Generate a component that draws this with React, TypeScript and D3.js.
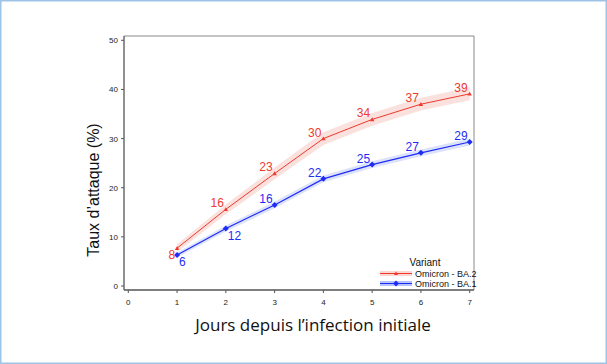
import React from "react";
import * as d3 from "d3";

const days = [1, 2, 3, 4, 5, 6, 7];
const ba2 = [7.7, 15.6, 22.9, 30.0, 33.9, 37.0, 39.1];
const ba2Lo = [6.9, 14.6, 21.7, 28.7, 32.6, 35.7, 37.8];
const ba2Hi = [8.5, 16.6, 24.1, 31.3, 35.2, 38.3, 40.4];
const ba2Labels = ["8", "16", "23", "30", "34", "37", "39"];
const ba1 = [6.3, 11.7, 16.5, 21.8, 24.7, 27.1, 29.3];
const ba1Lo = [5.8, 11.1, 15.8, 21.1, 24.0, 26.4, 28.6];
const ba1Hi = [6.8, 12.3, 17.2, 22.5, 25.4, 27.8, 30.0];
const ba1Labels = ["6", "12", "16", "22", "25", "27", "29"];
const xTicks = [0, 1, 2, 3, 4, 5, 6, 7];
const yTicks = [0, 10, 20, 30, 40, 50];
const seriesNames = ["Omicron - BA.2", "Omicron - BA.1"];
const legendTitle = "Variant";
const xTitle = "Jours depuis l\u2019infection initiale";
const yTitle = "Taux d\u2019attaque (%)";
// label placement per point: "nw" above-left, "w" left-low, "se" below-right
const ba2Place = ["w", "nw", "nw", "nw", "nw", "nw", "nw"];
const ba1Place = ["se", "se", "nw", "nw", "nw", "nw", "nw"];

const RED = "#ee3a2e";
const BLUE = "#1f2cf5";
const RED_BAND = "#fbe1dd";
const BLUE_BAND = "#dde2fb";

export default function App() {
  const W = 607, H = 364;
  const x = d3.scaleLinear().domain([0, 7]).range([128.3, 469.7]);
  const y = d3.scaleLinear().domain([0, 50]).range([286, 40.3]);
  const left = 124, right = 474, top = 36, bottom = 290;

  const line = d3.line<number>().x((_, i) => x(days[i])).y((d) => y(d));
  const area = (lo: number[], hi: number[]) =>
    d3
      .area<number>()
      .x((_, i) => x(days[i]))
      .y0((_, i) => y(lo[i]))
      .y1((_, i) => y(hi[i]))(days);

  const labelPos = (p: string, px: number, py: number) => {
    if (p === "nw") return { x: px - 2, y: py - 2, anchor: "end" };
    if (p === "w") return { x: px - 2, y: py + 11, anchor: "end" };
    return { x: px + 2, y: py + 11, anchor: "start" };
  };

  const tri = (cx: number, cy: number, s: number) =>
    `M${cx},${cy - s} L${cx + s},${cy + s * 0.8} L${cx - s},${cy + s * 0.8}Z`;
  const dia = (cx: number, cy: number, s: number) =>
    `M${cx},${cy - s} L${cx + s},${cy} L${cx},${cy + s} L${cx - s},${cy}Z`;

  return (
    <svg
      width={W}
      height={H}
      style={{ position: "absolute", left: 0, top: 0, background: "#fff" }}
      fontFamily="'Liberation Sans', Arial, sans-serif"
    >
      <rect x={0.75} y={0.75} width={W - 1.5} height={H - 1.5} fill="#fff" stroke="#9dc3e6" strokeWidth={1.5} />
      {/* frame */}
      <line x1={left} x2={right} y1={top} y2={top} stroke="#8a8a8a" strokeWidth={1} />
      <line x1={right} x2={right} y1={top} y2={bottom} stroke="#8a8a8a" strokeWidth={1} />
      <line x1={left} x2={left} y1={top} y2={bottom} stroke="#555" strokeWidth={1.3} />
      <line x1={left} x2={right} y1={bottom} y2={bottom} stroke="#555" strokeWidth={1.3} />
      {yTicks.map((t) => (
        <g key={"y" + t}>
          <line x1={left - 3} x2={left} y1={y(t)} y2={y(t)} stroke="#555" />
          <text x={left - 6} y={y(t) + 3} fontSize={8} textAnchor="end" fill="#222">
            {t}
          </text>
        </g>
      ))}
      {xTicks.map((t) => (
        <g key={"x" + t}>
          <line x1={x(t)} x2={x(t)} y1={bottom} y2={bottom + 3} stroke="#555" />
          <text x={x(t)} y={bottom + 15} fontSize={8} textAnchor="middle" fill="#222">
            {t}
          </text>
        </g>
      ))}
      {/* bands */}
      <path d={area(ba2Lo, ba2Hi) || ""} fill={RED_BAND} />
      <path d={area(ba1Lo, ba1Hi) || ""} fill={BLUE_BAND} />
      <path d={line(ba2) || ""} fill="none" stroke={RED} strokeWidth={1} />
      <path d={line(ba1) || ""} fill="none" stroke={BLUE} strokeWidth={1.2} />
      {ba2.map((v, i) => (
        <path key={"rm" + i} d={tri(x(days[i]), y(v), 2.2)} fill={RED} />
      ))}
      {ba1.map((v, i) => (
        <path key={"bm" + i} d={dia(x(days[i]), y(v), 3)} fill={BLUE} />
      ))}
      {ba2.map((v, i) => {
        const p = labelPos(ba2Place[i], x(days[i]), y(v));
        return (
          <text key={"rl" + i} x={p.x} y={p.y} fontSize={12} textAnchor={p.anchor} fill={RED}>
            {ba2Labels[i]}
          </text>
        );
      })}
      {ba1.map((v, i) => {
        const p = labelPos(ba1Place[i], x(days[i]), y(v));
        return (
          <text key={"bl" + i} x={p.x} y={p.y} fontSize={12} textAnchor={p.anchor} fill={BLUE}>
            {ba1Labels[i]}
          </text>
        );
      })}
      {/* legend */}
      <text x={425} y={266} fontSize={10} textAnchor="middle" fill="#111">
        {legendTitle}
      </text>
      {seriesNames.map((n, i) => {
        const ly = 273.5 + i * 10;
        const c = i === 0 ? RED : BLUE;
        const b = i === 0 ? RED_BAND : BLUE_BAND;
        return (
          <g key={"lg" + i}>
            <rect x={380} y={ly - 2.5} width={32} height={5} fill={i === 0 ? "#fcd6d0" : "#b8c2fa"} />
            <line x1={380} x2={412} y1={ly} y2={ly} stroke={c} strokeWidth={1} />
            {i === 0 ? (
              <path d={tri(396, ly, 2)} fill={c} />
            ) : (
              <path d={dia(396, ly, 3)} fill={c} />
            )}
            <text x={415} y={ly + 3} fontSize={9} fill="#111">
              {n}
            </text>
          </g>
        );
      })}
      <text x={313} y={331} fontSize={17} textAnchor="middle" fill="#111" fontFamily="'Open Sans', sans-serif">
        {xTitle}
      </text>
      <text
        transform={`translate(99,${190}) rotate(-90)`}
        fontSize={16}
        textAnchor="middle"
        fill="#111"
      >
        {yTitle}
      </text>
    </svg>
  );
}
